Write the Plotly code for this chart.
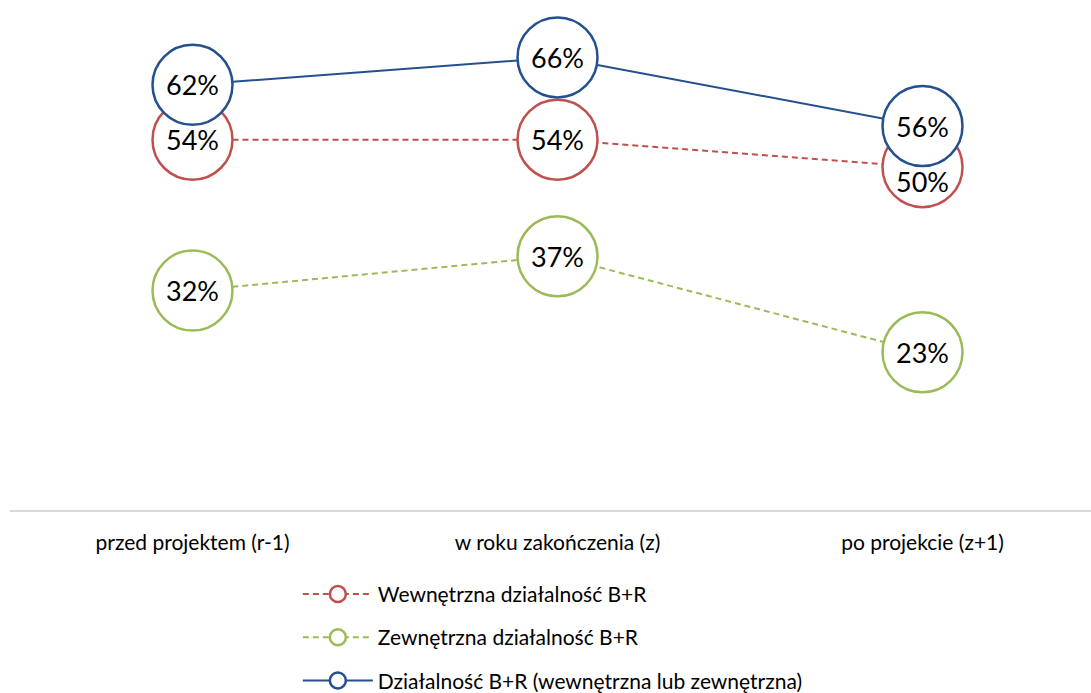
import plotly.graph_objects as go

categories = ["przed projektem (r-1)", "w roku zakończenia (z)", "po projekcie (z+1)"]

internal = [0.54, 0.54, 0.50]
external = [0.32, 0.37, 0.23]
any_rd = [0.62, 0.66, 0.56]

series_names = [
    "Wewnętrzna działalność B+R",
    "Zewnętrzna działalność B+R",
    "Działalność B+R (wewnętrzna lub zewnętrzna)",
]

FONT = "Lato, Carlito, Calibri, sans-serif"
RED = "#C0504D"
GREEN = "#9BBB59"
BLUE = "#24508E"

fig = go.Figure()

series = [
    (internal, series_names[0], RED, "6px,4px"),
    (external, series_names[1], GREEN, "6px,4px"),
    (any_rd, series_names[2], BLUE, "solid"),
]

for i, (vals, name, color, dash) in enumerate(series):
    fig.add_trace(go.Scatter(
        x=categories,
        y=vals,
        name=name,
        legendgroup=f"g{i}",
        mode="lines+markers",
        line=dict(color=color, width=2, dash=dash),
        marker=dict(size=80, color="white", line=dict(color=color, width=2.5)),
        cliponaxis=False,
    ))

# value labels centred in the circles; the last internal label sits below
# its circle so the overlapping blue marker does not hide it
for i, (vals, name, color, dash) in enumerate(series):
    for j, v in enumerate(vals):
        yshift = -14 if (i == 0 and j == 2) else 0
        fig.add_annotation(
            x=categories[j], y=v, text=f"{round(v * 100)}%",
            showarrow=False, yshift=yshift,
            font=dict(family=FONT, size=27, color="black"),
        )

fig.update_layout(
    width=1091, height=693,
    margin=dict(l=10, r=0, t=30, b=183, autoexpand=False),
    paper_bgcolor="white", plot_bgcolor="white",
    showlegend=True,
    legend=dict(
        orientation="v",
        xref="container", yref="container",
        x=0.273, xanchor="left",
        y=0.172, yanchor="top",
        font=dict(family=FONT, size=21, color="black"),
        tracegroupgap=13,
        itemwidth=70,
        bgcolor="rgba(0,0,0,0)",
    ),
    xaxis=dict(
        type="category",
        range=[-0.5, 2.4616],
        showline=True, linecolor="#D9D9D9", linewidth=2,
        showgrid=False, zeroline=False, ticks="",
        ticklabelstandoff=13,
        tickfont=dict(family=FONT, size=21, color="black"),
    ),
    yaxis=dict(
        range=[0, 0.70],
        visible=False, showgrid=False, zeroline=False,
    ),
)

fig.write_html("out.html")
